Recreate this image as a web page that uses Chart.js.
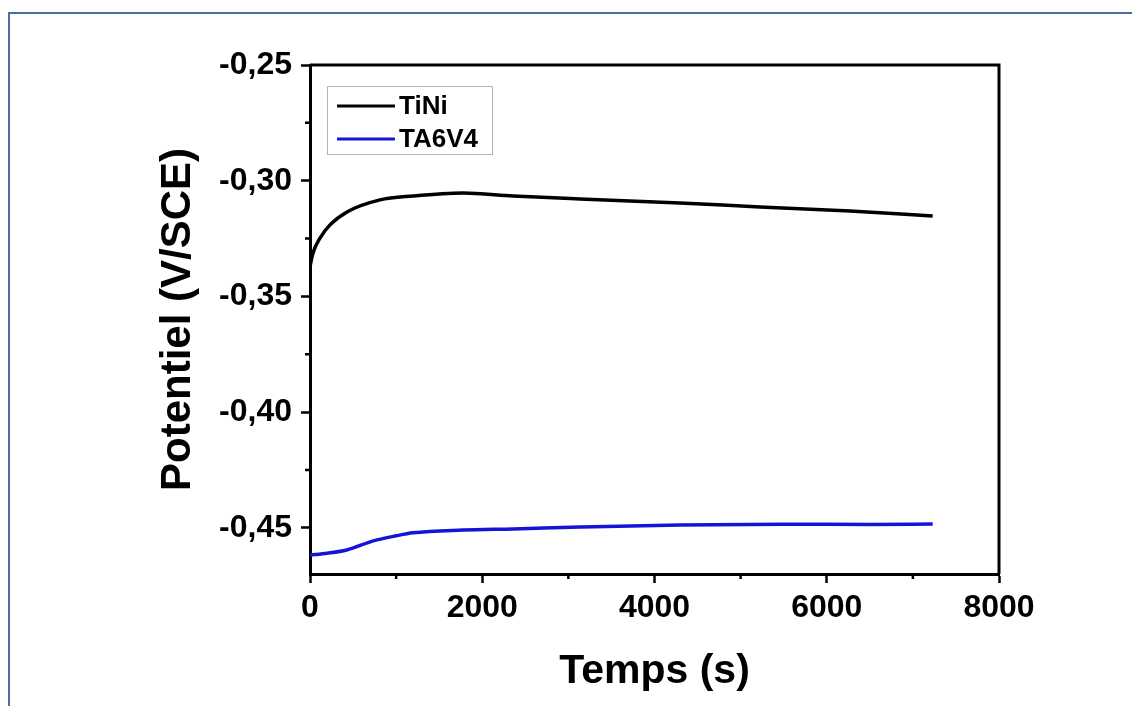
<!DOCTYPE html>
<html lang="fr">
<head>
<meta charset="utf-8">
<title>Potentiel - TiNi / TA6V4</title>
<script src="https://cdn.jsdelivr.net/npm/chart.js@4.4.1/dist/chart.umd.min.js"></script>
<style>
    html, body { margin: 0; padding: 0; background: #ffffff; }
    .page { position: relative; width: 1132px; height: 706px; overflow: hidden; }
    .frame {
        position: absolute; left: 8px; top: 12px; right: -3px; bottom: -3px;
        border-left: 2px solid #4a6fa5; border-top: 2px solid #4a6fa5;
    }
    canvas { position: absolute; left: 0; top: 0; }
</style>
</head>
<body>
<div class="page">
    <div class="frame"></div>
    <canvas id="ocpChart" width="1132" height="706"></canvas>
</div>
<script>
// Data (time in s, potential in V/SCE)
const tiniTime = [0, 35, 116, 232, 430, 813, 1196, 1776, 2357, 3135, 4296, 5225, 6270, 7230];
const tiniPotential = [-0.3370, -0.3312, -0.3248, -0.3191, -0.3135, -0.3083, -0.3066, -0.3053, -0.3066, -0.3079, -0.3096, -0.3114, -0.3131, -0.3153];

const ta6v4Time = [0, 200, 426, 735, 1000, 1196, 1776, 2357, 3135, 4296, 5500, 6500, 7230];
const ta6v4Potential = [-0.4618, -0.4610, -0.4596, -0.4557, -0.4535, -0.4522, -0.4510, -0.4505, -0.4497, -0.4488, -0.4485, -0.4486, -0.4484];

// Axis ticks
const xTickValues = [0, 2000, 4000, 6000, 8000];
const xTickLabels = ['0', '2000', '4000', '6000', '8000'];
const xMinorTicks = [1000, 3000, 5000, 7000];
const yTickValues = [-0.45, -0.40, -0.35, -0.30, -0.25];
const yTickLabels = ['-0,45', '-0,40', '-0,35', '-0,30', '-0,25'];
const yMinorTicks = [-0.425, -0.375, -0.325, -0.275];

const FONT = '"Liberation Sans", Arial, sans-serif';

function toPoints(xs, ys) {
    return xs.map((x, i) => ({ x: x, y: ys[i] }));
}

// Closes the box on top and right, plus the short minor ticks
const frameAndMinorTicks = {
    id: 'frameAndMinorTicks',
    afterDraw(chart) {
        const { ctx, chartArea, scales } = chart;
        ctx.save();
        ctx.strokeStyle = '#000';
        ctx.lineWidth = 3;
        ctx.beginPath();
        ctx.moveTo(chartArea.left, chartArea.top);
        ctx.lineTo(chartArea.right, chartArea.top);
        ctx.lineTo(chartArea.right, chartArea.bottom);
        ctx.stroke();

        ctx.lineWidth = 2.5;
        ctx.beginPath();
        xMinorTicks.forEach(v => {
            const px = scales.x.getPixelForValue(v);
            ctx.moveTo(px, chartArea.bottom);
            ctx.lineTo(px, chartArea.bottom + 5);
        });
        yMinorTicks.forEach(v => {
            const py = scales.y.getPixelForValue(v);
            ctx.moveTo(chartArea.left, py);
            ctx.lineTo(chartArea.left - 5, py);
        });
        ctx.stroke();
        ctx.restore();
    }
};

// Legend boxed inside the plot, top left
const insideLegend = {
    id: 'insideLegend',
    afterDraw(chart) {
        const { ctx, chartArea } = chart;
        const x0 = chartArea.left + 17;
        const y0 = chartArea.top + 21;
        ctx.save();
        ctx.strokeStyle = '#b4b4b4';
        ctx.lineWidth = 1;
        ctx.strokeRect(x0 + 0.5, y0 + 0.5, 165, 68);

        ctx.font = 'bold 26px ' + FONT;
        ctx.textBaseline = 'middle';
        ctx.textAlign = 'left';
        chart.data.datasets.forEach((ds, i) => {
            const y = y0 + 20 + i * 33;
            ctx.strokeStyle = ds.borderColor;
            ctx.lineWidth = 3;
            ctx.beginPath();
            ctx.moveTo(x0 + 10, y);
            ctx.lineTo(x0 + 68, y);
            ctx.stroke();
            ctx.fillStyle = '#000';
            ctx.fillText(ds.label, x0 + 72, y + 1);
        });
        ctx.restore();
    }
};

const ctx = document.getElementById('ocpChart').getContext('2d');
new Chart(ctx, {
    type: 'line',
    data: {
        datasets: [
            {
                label: 'TiNi',
                data: toPoints(tiniTime, tiniPotential),
                borderColor: '#000000',
                borderWidth: 3.5,
                pointRadius: 0,
                cubicInterpolationMode: 'monotone',
                fill: false
            },
            {
                label: 'TA6V4',
                data: toPoints(ta6v4Time, ta6v4Potential),
                borderColor: '#1414d8',
                borderWidth: 3.5,
                pointRadius: 0,
                cubicInterpolationMode: 'monotone',
                fill: false
            }
        ]
    },
    options: {
        responsive: false,
        animation: false,
        devicePixelRatio: 1,
        layout: {
            padding: { left: 150, top: 65, right: 133, bottom: 0 }
        },
        plugins: {
            legend: { display: false },
            tooltip: { enabled: false }
        },
        scales: {
            x: {
                type: 'linear',
                min: 0,
                max: 8000,
                afterBuildTicks: scale => {
                    scale.ticks = xTickValues.map(v => ({ value: v }));
                },
                afterFit: scale => { scale.height = 132; },
                border: { display: true, color: '#000', width: 3 },
                grid: {
                    drawOnChartArea: false,
                    drawTicks: true,
                    tickLength: 9,
                    tickWidth: 2.5,
                    tickColor: '#000'
                },
                ticks: {
                    color: '#000',
                    font: { family: FONT, size: 32, weight: 'bold' },
                    padding: 6,
                    maxRotation: 0,
                    autoSkip: false,
                    callback: (value, index) => xTickLabels[index]
                },
                title: {
                    display: true,
                    text: 'Temps (s)',
                    color: '#000',
                    font: { family: FONT, size: 41, weight: 'bold' },
                    padding: { top: 0, bottom: 10 }
                }
            },
            y: {
                type: 'linear',
                min: -0.47,
                max: -0.25,
                afterBuildTicks: scale => {
                    scale.ticks = yTickValues.map(v => ({ value: v }));
                },
                afterFit: scale => { scale.width = 160; },
                border: { display: true, color: '#000', width: 3 },
                grid: {
                    drawOnChartArea: false,
                    drawTicks: true,
                    tickLength: 9,
                    tickWidth: 2.5,
                    tickColor: '#000'
                },
                ticks: {
                    color: '#000',
                    font: { family: FONT, size: 32, weight: 'bold' },
                    padding: 9,
                    autoSkip: false,
                    callback: (value, index) => yTickLabels[index]
                },
                title: {
                    display: true,
                    text: 'Potentiel (V/SCE)',
                    color: '#000',
                    font: { family: FONT, size: 42, weight: 'bold' },
                    padding: { top: 3, bottom: 0 }
                }
            }
        }
    },
    plugins: [frameAndMinorTicks, insideLegend]
});
</script>
</body>
</html>
